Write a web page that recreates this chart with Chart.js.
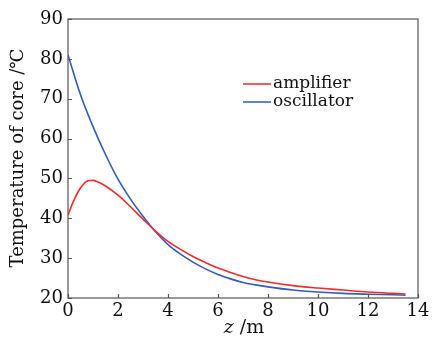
<!DOCTYPE html>
<html>
<head>
<meta charset="utf-8">
<script src="https://cdn.jsdelivr.net/npm/chart.js@4"></script>
<style>
  html, body { margin: 0; padding: 0; background: #fff; }
  #wrap { width: 433px; height: 340px; position: relative; }
</style>
</head>
<body>
<div id="wrap"><canvas id="tempChart"></canvas></div>
<script>
// values
const zAmp = [0, 0.2, 0.4, 0.6, 0.8, 1, 1.2, 1.5, 2, 2.5, 3, 3.5, 4, 4.5, 5, 5.5, 6, 6.5, 7, 7.5, 8, 9, 10, 11, 12, 13, 13.5];
const amplifier = [40.8, 44.0, 46.6, 48.4, 49.4, 49.5, 49.1, 48.1, 45.8, 42.9, 39.8, 36.8, 34.2, 32.2, 30.4, 28.9, 27.5, 26.4, 25.4, 24.6, 24.0, 23.1, 22.5, 22.0, 21.5, 21.15, 21.0];
const zOsc = [0, 0.5, 1, 1.5, 2, 2.5, 3, 3.5, 4, 4.5, 5, 5.5, 6, 6.5, 7, 7.5, 8, 9, 10, 11, 12, 13, 13.5];
const oscillator = [81, 71, 63, 56, 49.8, 44.8, 40.5, 36.6, 33.4, 31.0, 29.0, 27.3, 25.9, 24.8, 23.9, 23.3, 22.8, 22.0, 21.5, 21.15, 20.95, 20.8, 20.7];
const xTicks = [0, 2, 4, 6, 8, 10, 12, 14];
const yTicks = [20, 30, 40, 50, 60, 70, 80, 90];

const serif = '"DejaVu Serif", "Liberation Serif", serif';

function toPoints(xs, ys) {
    return xs.map((x, i) => ({ x: x, y: ys[i] }));
}

// frame, inward ticks, axis titles and legend
const decorations = {
    id: 'decorations',
    afterDraw(chart) {
        const ctx = chart.ctx;
        const a = chart.chartArea;
        const xs = chart.scales.x;
        const ys = chart.scales.y;
        ctx.save();
        ctx.strokeStyle = '#555';
        ctx.lineWidth = 1.2;
        ctx.strokeRect(a.left, a.top, a.right - a.left, a.bottom - a.top);
        ctx.beginPath();
        xTicks.forEach(v => {
            const px = Math.round(xs.getPixelForValue(v)) + 0.5;
            ctx.moveTo(px, a.bottom);
            ctx.lineTo(px, a.bottom - 4);
        });
        yTicks.forEach(v => {
            const py = Math.round(ys.getPixelForValue(v)) + 0.5;
            ctx.moveTo(a.left, py);
            ctx.lineTo(a.left + 4, py);
        });
        ctx.stroke();

        // y title
        ctx.fillStyle = '#111';
        ctx.font = '18px ' + serif;
        ctx.textAlign = 'center';
        ctx.textBaseline = 'middle';
        ctx.save();
        ctx.translate(18, 158);
        ctx.rotate(-Math.PI / 2);
        ctx.fillText('Temperature of core /\u2103', 0, 0);
        ctx.restore();

        // x title with italic z
        ctx.textAlign = 'left';
        ctx.textBaseline = 'alphabetic';
        ctx.font = 'italic 19px ' + serif;
        const zw = ctx.measureText('z').width;
        ctx.font = '19px ' + serif;
        const rest = ' /m';
        const rw = ctx.measureText(rest).width;
        const x0 = 244 - (zw + rw) / 2;
        ctx.font = 'italic 19px ' + serif;
        ctx.fillText('z', x0, 333);
        ctx.font = '19px ' + serif;
        ctx.fillText(rest, x0 + zw, 333);

        // legend
        ctx.font = '17px ' + serif;
        ctx.textBaseline = 'middle';
        chart.data.datasets.forEach((ds, i) => {
            const y = 84 + i * 18;
            ctx.strokeStyle = ds.borderColor;
            ctx.lineWidth = 1.5;
            ctx.beginPath();
            ctx.moveTo(243, y);
            ctx.lineTo(271, y);
            ctx.stroke();
            ctx.fillText(ds.label, 273, y);
        });
        ctx.restore();
    }
};

const ctx = document.getElementById('tempChart').getContext('2d');
window.tempChart = new Chart(ctx, {
    type: 'scatter',
    data: {
        datasets: [
            {
                label: 'amplifier',
                data: toPoints(zAmp, amplifier),
                borderColor: '#f52a2a',
                showLine: true,
                pointRadius: 0,
                borderWidth: 1.6,
                cubicInterpolationMode: 'monotone'
            },
            {
                label: 'oscillator',
                data: toPoints(zOsc, oscillator),
                borderColor: '#2f5cbf',
                showLine: true,
                pointRadius: 0,
                borderWidth: 1.6,
                cubicInterpolationMode: 'monotone'
            }
        ]
    },
    options: {
        responsive: true,
        maintainAspectRatio: false,
        animation: false,
        layout: {
            padding: { left: 0, top: 19, right: 15, bottom: 0 }
        },
        plugins: {
            legend: { display: false },
            tooltip: { enabled: false }
        },
        scales: {
            x: {
                type: 'linear',
                min: 0,
                max: 14,
                afterBuildTicks: s => { s.ticks = xTicks.map(v => ({ value: v })); },
                afterFit: s => { s.height = 42; },
                grid: { display: false, drawTicks: false },
                border: { display: false },
                ticks: {
                    color: '#111',
                    padding: 3,
                    font: { family: serif, size: 18 }
                }
            },
            y: {
                min: 20,
                max: 90,
                afterBuildTicks: s => { s.ticks = yTicks.map(v => ({ value: v })); },
                afterFit: s => { s.width = 68; },
                grid: { display: false, drawTicks: false },
                border: { display: false },
                ticks: {
                    color: '#111',
                    padding: 5,
                    font: { family: serif, size: 18 }
                }
            }
        }
    },
    plugins: [decorations]
});
</script>
</body>
</html>
